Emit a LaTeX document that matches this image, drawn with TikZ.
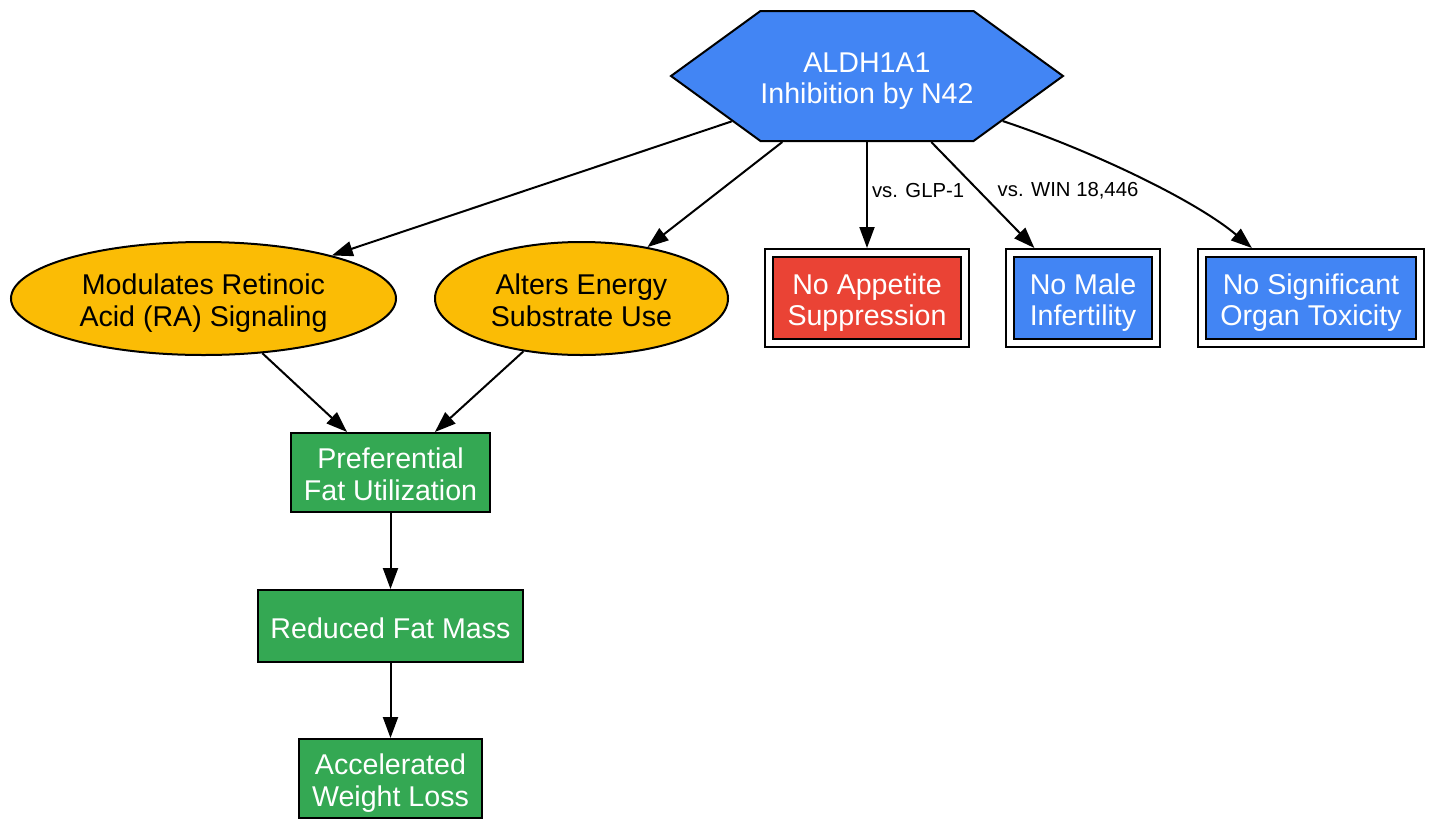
\documentclass[tikz,border=0pt]{standalone}
\usepackage{fontspec}
\setmainfont{Liberation Sans}
\usetikzlibrary{arrows.meta,positioning,shapes.geometric,shapes.symbols}
\definecolor{HexBlue}{HTML}{4285F4}
\definecolor{OvalYellow}{HTML}{FBBC05}
\definecolor{BoxRed}{HTML}{EA4335}
\definecolor{BoxGreen}{HTML}{34A853}

\begin{document}
\begin{tikzpicture}[
  x=1pt,y=-1pt,
  node distance=76pt,
  base/.style={
    draw,line width=2pt,align=center,inner sep=2pt,
    text height=55.5pt,text depth=0pt,
    font=\fontsize{28.6}{31.7}\selectfont
  },
  hexnode/.style={
    base,signal,signal to=west and east,signal pointer angle=72,
    inner xsep=0pt,fill=HexBlue,text=white,minimum height=130pt
  },
  oval/.style={base,ellipse,fill=OvalYellow,text=black,minimum height=113pt},
  dbox/.style={
    base,rectangle,double,double distance=6pt,fill=#1,text=white,
    minimum height=90pt,outer sep=5pt
  },
  gbox/.style={base,rectangle,fill=BoxGreen,text=white},
  arr/.style={-{Triangle[length=21pt,width=15pt]},line width=2pt},
  lbl/.style={font=\fontsize{20.3}{24}\selectfont,inner sep=4pt}
]
  \useasboundingbox (0,0) rectangle (1433,820);

  % top
  \node[hexnode] (hex) at (867,76) {ALDH1A1\\Inhibition by N42};

  % second row
  \node[oval,minimum width=385pt] (ra) at (203.5,298.5)
    {Modulates Retinoic\\Acid (RA) Signaling};
  \node[oval,minimum width=293pt] (energy) at (581.5,298.5)
    {Alters Energy\\Substrate Use};
  \node[dbox=BoxRed,minimum width=196pt] (appetite) at (867,298)
    {No Appetite\\Suppression};
  \node[dbox=HexBlue,minimum width=146pt] (male) at (1083,298)
    {No Male\\Infertility};
  \node[dbox=HexBlue,minimum width=218pt] (toxicity) at (1311,298)
    {No Significant\\Organ Toxicity};

  % outcome chain
  \node[gbox,minimum width=199pt,minimum height=79pt] (fat) at (390.5,472.5)
    {Preferential\\Fat Utilization};
  \node[gbox,minimum width=265pt,minimum height=72pt,text height=25pt,
    below=76pt of fat] (mass) {Reduced Fat Mass};
  \node[gbox,minimum width=183pt,minimum height=79pt,below=75pt of mass] (loss)
    {Accelerated\\Weight Loss};

  \draw[arr] (hex) -- (ra);
  \draw[arr] (hex) -- (energy);
  \draw[arr] (hex) -- node[lbl,right,pos=0.46] {vs. GLP-1} (appetite);
  \draw[arr] (hex) -- node[lbl,right,pos=0.46,xshift=14pt] {vs. WIN 18,446} (male);
  \draw[arr] (hex) .. controls (1090,150) and (1195,200) .. (toxicity);
  \draw[arr] (ra) -- (fat);
  \draw[arr] (energy) -- (fat);
  \draw[arr] (fat) -- (mass);
  \draw[arr] (mass) -- (loss);
\end{tikzpicture}
\end{document}
